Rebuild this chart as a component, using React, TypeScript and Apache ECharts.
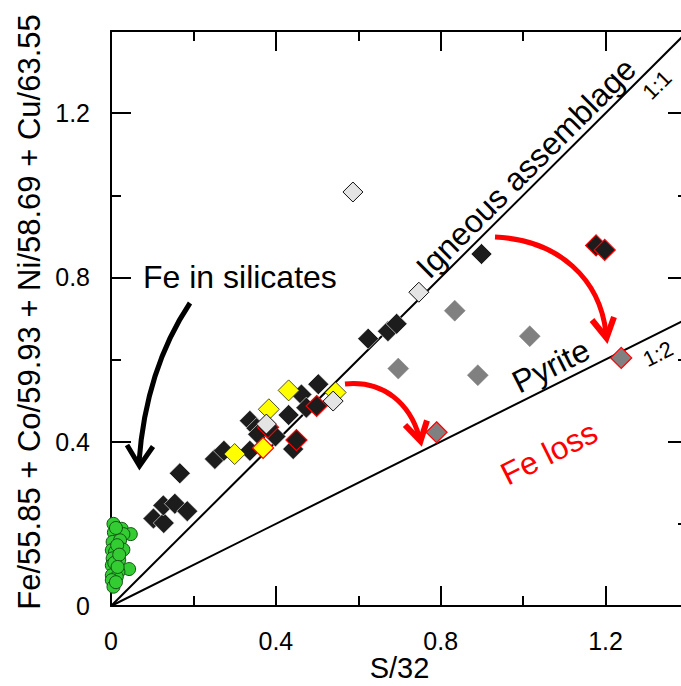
import { useEffect, useRef } from "react";
import * as echarts from "echarts";

const FONT = "'Liberation Sans', Arial, Helvetica, sans-serif";

// axis settings
const X_MAX = 1.4;
const Y_MAX = 1.4;
const MAJOR_STEP = 0.4;
const MINOR_STEP = 0.2;
const X_TITLE = "S/32";
const Y_TITLE = "Fe/55.85 + Co/59.93 + Ni/58.69 + Cu/63.55";

// reference ratio lines
const lineOneToOne: [number, number][] = [[0, 0], [1.4, 1.4]];
const lineOneToTwo: [number, number][] = [[0, 0], [1.4, 0.7]];

// silicate-hosted Fe (green circles)
const silicatePts: [number, number][] = [
  [0.006, 0.2], [0.026, 0.188], [0.048, 0.175], [0.007, 0.179], [0.03, 0.175],
  [0.004, 0.156], [0.022, 0.16], [0.03, 0.137], [0.002, 0.136], [0.01, 0.132],
  [0.004, 0.116], [0.02, 0.112], [0.044, 0.09], [0.002, 0.099], [0.018, 0.083],
  [0.002, 0.075], [0.014, 0.071], [0.002, 0.063], [0.006, 0.047], [0.012, 0.19],
  [0.015, 0.148], [0.008, 0.105], [0.012, 0.058], [0.02, 0.125], [0.016, 0.095],
];

// black diamonds
const blackPts: [number, number][] = [
  [0.103, 0.213], [0.128, 0.202], [0.127, 0.245], [0.155, 0.249], [0.185, 0.231],
  [0.167, 0.323], [0.252, 0.358], [0.274, 0.378], [0.337, 0.378], [0.337, 0.451],
  [0.353, 0.433], [0.357, 0.418], [0.399, 0.413], [0.431, 0.465], [0.442, 0.382],
  [0.462, 0.515], [0.474, 0.483], [0.503, 0.54], [0.624, 0.651], [0.672, 0.669],
  [0.693, 0.687], [0.899, 0.857],
];
// black diamonds with red rim
const blackRedPts: [number, number][] = [
  [0.381, 0.435], [0.45, 0.404], [0.499, 0.487], [1.177, 0.878], [1.198, 0.867],
];
// mid-grey diamonds
const greyPts: [number, number][] = [
  [0.834, 0.719], [1.016, 0.657], [0.697, 0.578], [0.89, 0.562],
];
// mid-grey diamonds with red rim
const greyRedPts: [number, number][] = [[0.79, 0.423], [1.238, 0.604]];
// yellow diamonds
const yellowPts: [number, number][] = [
  [0.3, 0.37], [0.383, 0.479], [0.431, 0.525], [0.545, 0.52],
];
// yellow diamonds with red rim
const yellowRedPts: [number, number][] = [[0.369, 0.385]];
// light-grey diamonds
const lightPts: [number, number][] = [
  [0.377, 0.443], [0.539, 0.499], [0.587, 1.008], [0.747, 0.764],
];

const fmt = (v: number) => (v > 1.3 ? "" : String(Math.round(v * 10) / 10));

function makeAxis(dim: "x" | "y", position: string, kind: "major" | "minor", extra: any = {}) {
  return {
    type: "value",
    position,
    min: 0,
    max: dim === "x" ? X_MAX : Y_MAX,
    interval: kind === "major" ? MAJOR_STEP : MINOR_STEP,
    axisLine: { show: kind === "major", onZero: false, lineStyle: { color: "#000", width: 2 } },
    axisTick: { show: true, inside: true, length: kind === "major" ? 20 : 10, lineStyle: { color: "#000", width: 2 } },
    axisLabel: { show: false },
    splitLine: { show: false },
    ...extra,
  };
}

const labelStyle = { show: true, color: "#000", fontSize: 25, fontFamily: FONT, formatter: fmt };

function diamond(name: string, data: [number, number][], fill: string, border: string, bw: number, size = 21) {
  return {
    name,
    type: "scatter",
    data,
    symbol: "diamond",
    symbolSize: size,
    itemStyle: { color: fill, borderColor: border, borderWidth: bw, opacity: 1 },
    z: 3,
  };
}

function txt(text: string, x: number, y: number, rot: number, size: number, fill = "#000", align = "center") {
  return {
    type: "text",
    x,
    y,
    rotation: rot,
    z: 10,
    style: { text, fontSize: size, fontFamily: FONT, fill, align, verticalAlign: "middle" },
  };
}

const PYR = Math.atan(0.5);

export default function App() {
  const ref = useRef<HTMLDivElement>(null);
  useEffect(() => {
    document.body.style.margin = "0";
    const chart = echarts.init(ref.current!, null, { renderer: "svg" });
    const option: any = {
      animation: false,
      backgroundColor: "#fff",
      grid: { left: 111, right: -7, top: 31, bottom: 80, containLabel: false, outerBoundsMode: "none" },
      xAxis: [
        makeAxis("x", "bottom", "major", {
          axisLabel: { ...labelStyle, margin: 22 },
          name: X_TITLE,
          nameLocation: "middle",
          nameGap: 47,
          nameMoveOverlap: false,
          nameTextStyle: { color: "#000", fontSize: 29, fontFamily: FONT },
        }),
        makeAxis("x", "bottom", "minor"),
        makeAxis("x", "top", "major"),
        makeAxis("x", "top", "minor"),
      ],
      yAxis: [
        makeAxis("y", "left", "major", {
          axisLabel: { ...labelStyle, margin: 21 },
          name: Y_TITLE,
          nameLocation: "middle",
          nameRotate: 90,
          nameGap: 66,
          nameMoveOverlap: false,
          nameTextStyle: { color: "#000", fontSize: 31, fontFamily: FONT, padding: [0, 0, 0, 13] },
        }),
        makeAxis("y", "left", "minor"),
        makeAxis("y", "right", "major"),
        makeAxis("y", "right", "minor"),
      ],
      series: [
        {
          name: "1:1",
          type: "line",
          data: lineOneToOne,
          symbol: "none",
          silent: true,
          lineStyle: { color: "#000", width: 2 },
          z: 1,
        },
        {
          name: "1:2",
          type: "line",
          data: lineOneToTwo,
          symbol: "none",
          silent: true,
          lineStyle: { color: "#000", width: 2 },
          z: 1,
        },
        {
          name: "Fe in silicates",
          type: "scatter",
          data: silicatePts,
          symbol: "circle",
          symbolSize: 13,
          itemStyle: { color: "#33cc33", borderColor: "#145214", borderWidth: 1, opacity: 1 },
          z: 2,
        },
        diamond("black", blackPts, "#1c1c1c", "#ffffff", 0.6),
        diamond("black red rim", blackRedPts, "#1c1c1c", "#ff0000", 1.2),
        diamond("grey", greyPts, "#808080", "#808080", 0.5),
        diamond("grey red rim", greyRedPts, "#808080", "#ff0000", 1.2),
        diamond("yellow", yellowPts, "#ffff00", "#222222", 0.8),
        diamond("yellow red rim", yellowRedPts, "#ffff00", "#ff0000", 1.2),
        diamond("light grey", lightPts, "#e4e4e4", "#111111", 1, 20),
      ],
      graphic: {
        elements: [
          txt("Fe in silicates", 143, 277, 0, 32, "#000", "left"),
          txt("Igneous assemblage", 526, 168, Math.PI / 4, 32),
          txt("1:1", 657, 85, Math.PI / 4, 22),
          txt("Pyrite", 551, 366, PYR, 32),
          txt("1:2", 658, 354, PYR, 22),
          txt("Fe loss", 549, 453, PYR, 32, "#ff0000"),
          {
            type: "bezierCurve",
            z: 10,
            shape: { x1: 190, y1: 303, cpx1: 172, cpy1: 330, cpx2: 145, cpy2: 380, x2: 139, y2: 462 },
            style: { stroke: "#000", lineWidth: 5, fill: "none" },
          },
          {
            type: "polyline",
            z: 10,
            shape: { points: [[127, 445], [139.5, 466], [153, 446.5]] },
            style: { stroke: "#000", lineWidth: 5, fill: "none", lineJoin: "miter" },
          },
          {
            type: "bezierCurve",
            z: 10,
            shape: { x1: 495, y1: 237, cpx1: 560, cpy1: 240, cpx2: 600, cpy2: 280, x2: 606, y2: 333 },
            style: { stroke: "#ff0000", lineWidth: 5, fill: "none" },
          },
          {
            type: "polyline",
            z: 10,
            shape: { points: [[592, 320], [606.5, 338], [614, 317]] },
            style: { stroke: "#ff0000", lineWidth: 6, fill: "none", lineJoin: "miter" },
          },
          {
            type: "bezierCurve",
            z: 10,
            shape: { x1: 345, y1: 384, cpx1: 385, cpy1: 380, cpx2: 410, cpy2: 405, x2: 419, y2: 436 },
            style: { stroke: "#ff0000", lineWidth: 5, fill: "none" },
          },
          {
            type: "polyline",
            z: 10,
            shape: { points: [[405, 425], [420.5, 441], [427, 420.5]] },
            style: { stroke: "#ff0000", lineWidth: 6, fill: "none", lineJoin: "miter" },
          },
        ],
      },
    };
    chart.setOption(option);
    return () => chart.dispose();
  }, []);
  return <div ref={ref} style={{ width: 681, height: 686 }} />;
}
